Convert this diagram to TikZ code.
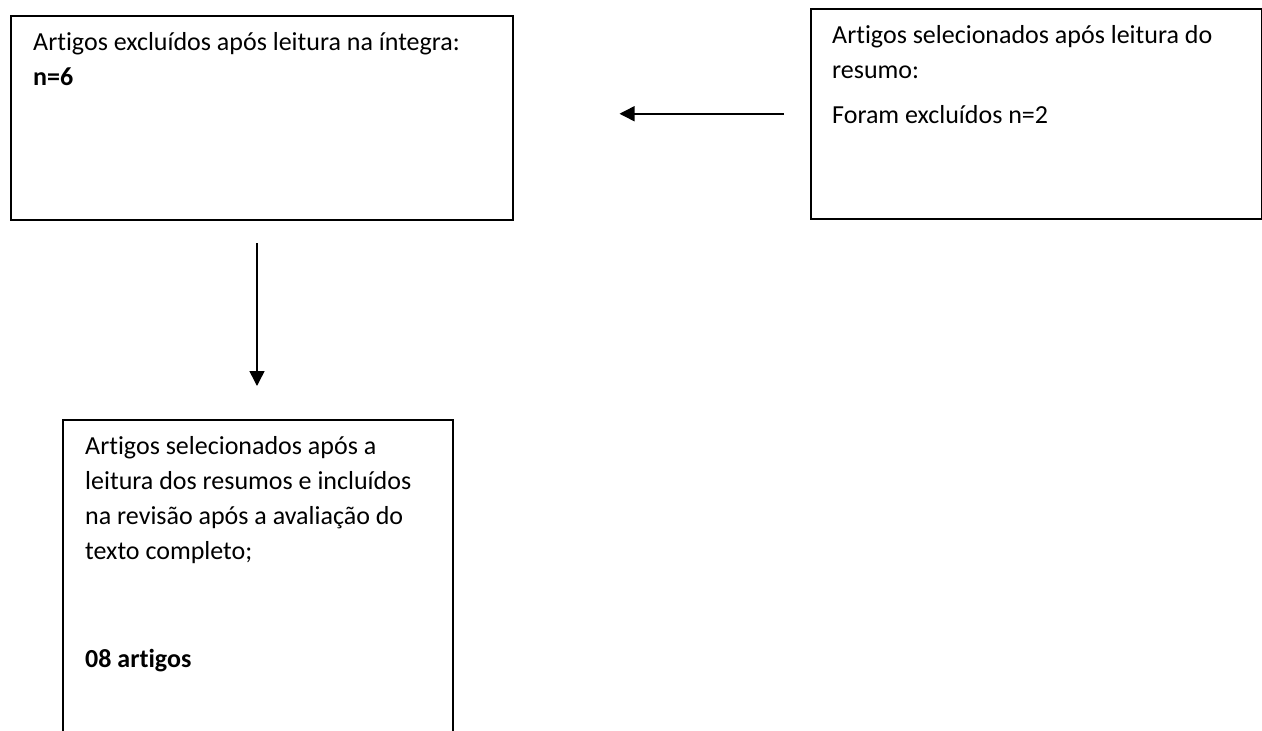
\documentclass[tikz,border=0pt]{standalone}
\usepackage{fontspec}
\setmainfont[Ligatures=NoCommon]{Carlito}
\usetikzlibrary{arrows.meta,positioning,calc}

\begin{document}
\begin{tikzpicture}[
    x=1pt, y=-1pt,
    box/.style={draw, line width=1.5pt, anchor=north west, inner sep=0pt},
    txt/.style={anchor=north west, inner sep=0pt, align=left,
                font=\fontsize{26}{35}\selectfont},
    arrow/.style={-{Triangle[length=15pt,width=15pt]}, line width=1.5pt},
  ]
  \clip (0,0) rectangle (1262,731);

  % Boxes
  \node[box, minimum width=502pt, minimum height=204pt] (excl)   at (10,15)  {};
  \node[box, minimum width=451pt, minimum height=210pt] (resumo) at (810,8)  {};
  \node[box, minimum width=390pt, minimum height=340pt] (final)  at (62,419) {};

  % Box texts
  \node[txt] (excltxt) at ($(excl.north west)+(23,10.5)$)
    {\strut Artigos excluídos após leitura na íntegra:\\ \textbf{n=6}};
  \node[txt] (resumotxt) at ($(resumo.north west)+(22,10.5)$)
    {\strut Artigos selecionados após leitura do\\ resumo:\\[10pt] Foram excluídos n=2};
  \node[txt] (finaltxt) at ($(final.north west)+(23,10.5)$)
    {\strut Artigos selecionados após a\\ leitura dos resumos e incluídos\\
     na revisão após a avaliação do\\ texto completo;\\[73pt] \textbf{08 artigos}};

  % Arrows
  \coordinate (vtop) at (257,243);
  \draw[arrow, shorten <=26pt, shorten >=106pt] (resumo.west) -- (resumo.west -| excl.east);
  \draw[arrow, shorten >=33pt] (vtop) -- (vtop |- final.north);

\end{tikzpicture}
\end{document}
